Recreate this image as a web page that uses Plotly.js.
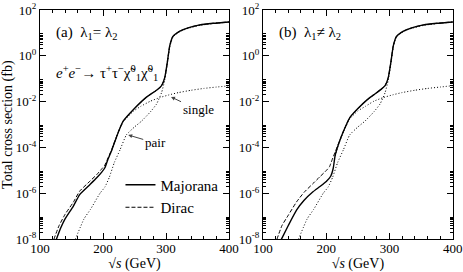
<!DOCTYPE html>
<html><head><meta charset="utf-8">
<script src="https://cdn.plot.ly/plotly-3.0.1.min.js"></script>
<style>html,body{margin:0;padding:0;background:#fff}#c{width:463px;height:272px}</style>
</head><body><div id="c"></div>
<script>
// sqrt(s) in GeV; cross sections given as log10(sigma / fb)
const sMajA = [126,133,140,153,163,179,190,198,203,208,214,224,232,248,269,285,293,298,302,306,311,322,335,354,375,400];
const logMajA = [-8,-7.5,-7.1,-6.55,-6.05,-5.62,-5.32,-5.07,-4.88,-4.5,-4.1,-3.35,-2.85,-2.35,-1.8,-1.5,-1.3,-0.95,-0.3,0.45,0.85,1.08,1.22,1.35,1.42,1.48];
const sDirA = [122,130,140,153,163,179,190,198,203,208,214,224,232,248,269,285,293,298,302,306,311,322,335,354,375,400];
const logDirA = [-8,-7.42,-6.9,-6.38,-5.9,-5.47,-5.18,-4.93,-4.76,-4.45,-4.07,-3.33,-2.85,-2.35,-1.8,-1.5,-1.3,-0.95,-0.3,0.45,0.85,1.08,1.22,1.35,1.42,1.48];
const sPairA = [156,170,180,195,203,210,218,227,237,250,261,275,285,293,298,302,306,311,322,335,354,375,400];
const logPairA = [-8,-7.1,-6.7,-6.0,-5.72,-5.3,-4.65,-4.1,-3.45,-3.1,-2.85,-2.45,-2.1,-1.6,-1.05,-0.35,0.4,0.82,1.06,1.2,1.33,1.41,1.47];
const sSingA = [214,224,232,248,260,275,290,305,320,340,360,380,400];
const logSingA = [-4.12,-3.37,-2.88,-2.42,-2.2,-1.98,-1.82,-1.7,-1.6,-1.5,-1.42,-1.36,-1.31];

const sMajB = [129,140,153,165,179,190,200,207,211,214,220,227,237,250,264,275,287,293,298,302,306,311,322,335,354,375,400];
const logMajB = [-8,-7.4,-6.73,-6.3,-5.93,-5.7,-5.48,-5.25,-4.9,-4.35,-3.8,-3.3,-2.7,-2.3,-1.93,-1.7,-1.45,-1.3,-0.95,-0.3,0.45,0.85,1.08,1.22,1.35,1.42,1.48];
const sDirB = [122,130,140,153,165,179,190,200,205,209,214,220,227,237,250,264,275,287,293,298,302,306,311,322,335,354,375,400];
const logDirB = [-8,-7.4,-6.95,-6.37,-5.95,-5.57,-5.27,-5.0,-4.84,-4.55,-4.2,-3.78,-3.3,-2.7,-2.3,-1.93,-1.7,-1.45,-1.3,-0.95,-0.3,0.45,0.85,1.08,1.22,1.35,1.42,1.48];
const sPairB = [156,170,180,195,203,210,218,227,237,250,261,275,285,293,298,302,306,311,322,335,354,375,400];
const logPairB = [-8,-7.1,-6.7,-6.0,-5.72,-5.3,-4.65,-4.1,-3.45,-3.1,-2.85,-2.45,-2.1,-1.6,-1.05,-0.35,0.4,0.82,1.06,1.2,1.33,1.41,1.47];
const sSingB = [214,220,227,237,250,262,275,290,305,320,340,360,380,400];
const logSingB = [-4.37,-3.82,-3.32,-2.75,-2.4,-2.2,-1.98,-1.82,-1.7,-1.6,-1.5,-1.42,-1.36,-1.3];

const yTickVals = [1e-8,1e-6,1e-4,1e-2,1,1e2];
const yTickText = ['10<sup>-8</sup>','10<sup>-6</sup>','10<sup>-4</sup>','10<sup>-2</sup>','10<sup>0</sup>','10<sup>2</sup>'];
const xTickVals = [100,200,300,400];

const pw = v => v.map(e => Math.pow(10, e));
const FONT = '"Liberation Serif", "Times New Roman", serif';

function tr(x, ly, dash, width, name, ax) {
  return {x: x, y: pw(ly), type: 'scatter', mode: 'lines', name: name,
    xaxis: ax[0], yaxis: ax[1], showlegend: false,
    line: {color: '#000', width: width, dash: dash, shape: 'spline', smoothing: 0.45}};
}
const DOT = '1px,2px', DASH = '4px,2px';
const data = [
  tr(sPairA, logPairA, DOT, 1, 'pair', ['x','y']),
  tr(sSingA, logSingA, DOT, 1, 'single', ['x','y']),
  tr(sDirA, logDirA, DASH, 1, 'Dirac', ['x','y']),
  tr(sMajA, logMajA, 'solid', 1.4, 'Majorana', ['x','y']),
  tr(sPairB, logPairB, DOT, 1, 'pair', ['x2','y2']),
  tr(sSingB, logSingB, DOT, 1, 'single', ['x2','y2']),
  tr(sDirB, logDirB, DASH, 1, 'Dirac', ['x2','y2']),
  tr(sMajB, logMajB, 'solid', 1.4, 'Majorana', ['x2','y2'])
];
data[3].showlegend = true; data[2].showlegend = true;
data[3].legendrank = 1; data[2].legendrank = 2;

const minorY = [];
[-8,-6,-4,-2,0].forEach(d => { for (let k = 2; k <= 9; k++) minorY.push(k * Math.pow(10, d)); });

function xax(dom) {
  return {domain: dom, range: [100,400], tickvals: xTickVals, ticks: 'inside', ticklen: 6, tickwidth: 1,
    tickcolor: '#000', showline: true, linecolor: '#000', linewidth: 1, mirror: 'allticks',
    showgrid: false, zeroline: false, tickfont: {family: FONT, size: 13, color: '#000'},
    ticklabelstandoff: -3,
    minor: {dtick: 20, tick0: 100, ticks: 'inside', ticklen: 3, tickcolor: '#000', showgrid: false},
    title: {text: '\u221A<i>s</i> (GeV)', font: {family: FONT, size: 14, color: '#000'}, standoff: 3}};
}
function yax(anchor, title) {
  return {type: 'log', domain: [0.1202, 0.9632], range: [-8,2], anchor: anchor,
    tickvals: yTickVals, ticktext: yTickText, ticks: 'inside', ticklen: 6, tickwidth: 1,
    tickcolor: '#000', showline: true, linecolor: '#000', linewidth: 1, mirror: 'allticks',
    showgrid: false, zeroline: false, tickfont: {family: FONT, size: 13, color: '#000'},
    minor: {tickvals: minorY, ticks: 'inside', ticklen: 3, tickcolor: '#000', showgrid: false},
    title: {text: title, font: {family: FONT, size: 14, color: '#000'}, standoff: 5}};
}
const annFont = {family: FONT, size: 15, color: '#000'};
const layout = {
  width: 463, height: 272, margin: {l: 0, r: 0, t: 0, b: 0},
  paper_bgcolor: '#fff', plot_bgcolor: '#fff',
  xaxis: Object.assign(xax([0.0864, 0.4946]), {anchor: 'y'}),
  yaxis: yax('x', 'Total cross section (fb)'),
  xaxis2: Object.assign(xax([0.568, 0.978]), {anchor: 'y2'}),
  yaxis2: yax('x2', ''),
  showlegend: true,
  legend: {x: 0.2602, y: 0.3805, xanchor: 'left', yanchor: 'top', bgcolor: 'rgba(0,0,0,0)',
    font: {family: FONT, size: 15, color: '#000'}, itemwidth: 30, tracegroupgap: 0, traceorder: 'normal'},
  annotations: [
    {xref: 'x', yref: 'y', x: 122, y: 1.0, xanchor: 'left', showarrow: false,
     text: '(a)  \u03BB<sub>1</sub>= \u03BB<sub>2</sub>', font: annFont},
    {xref: 'x2', yref: 'y2', x: 122, y: 1.0, xanchor: 'left', showarrow: false,
     text: '(b)  \u03BB<sub>1</sub>\u2260 \u03BB<sub>2</sub>', font: annFont},
    {xref: 'x', yref: 'y', x: 122, y: -0.75, xanchor: 'left', showarrow: false,
     text: '<i>e</i><sup>+</sup><i>e</i><sup>\u2212</sup>\u2192 \u03C4<sup>+</sup>\u03C4<sup>\u2212</sup>\u03C7\u0303<sup>0</sup><sub>1</sub>\u03C7\u0303<sup>0</sup><sub>1</sub>',
     font: annFont},
    {xref: 'x', yref: 'y', x: 308, y: -1.79, text: 'single', showarrow: true, arrowhead: 2,
     arrowsize: 0.8, arrowwidth: 1, ax: 27, ay: 13, font: {family: FONT, size: 13, color: '#000'}},
    {xref: 'x', yref: 'y', x: 240, y: -3.45, text: 'pair', showarrow: true, arrowhead: 2,
     arrowsize: 0.8, arrowwidth: 1, ax: 27, ay: 8, font: {family: FONT, size: 13, color: '#000'}}
  ]
};
Plotly.newPlot('c', data, layout, {staticPlot: true, displayModeBar: false});
</script></body></html>
